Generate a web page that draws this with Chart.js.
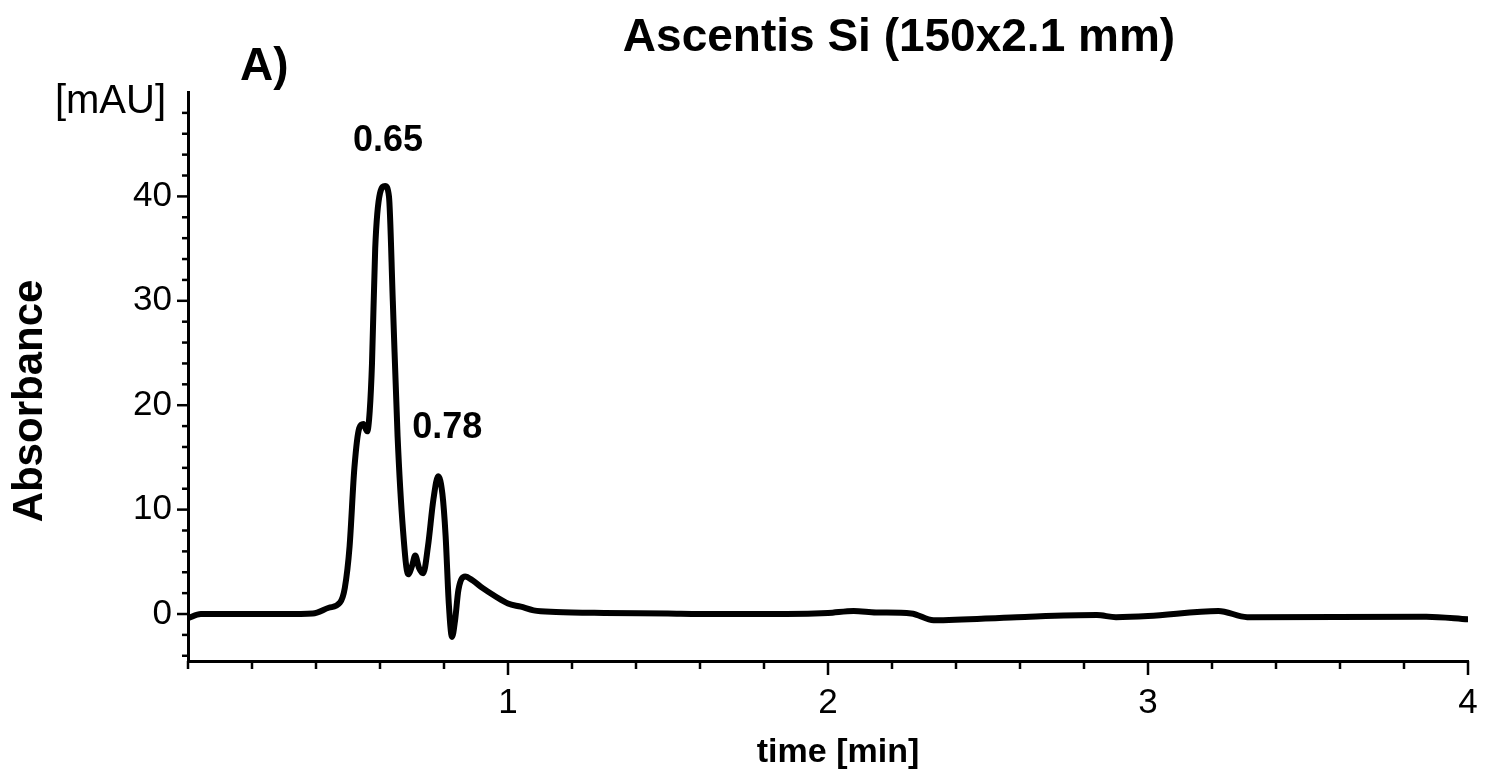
<!DOCTYPE html>
<html>
<head>
<meta charset="utf-8">
<script src="https://cdn.jsdelivr.net/npm/chart.js@4/dist/chart.umd.min.js"></script>
<style>
  html, body { margin: 0; padding: 0; background: #fff; }
  #chart { display: block; }
</style>
</head>
<body>
<canvas id="chart" width="1485" height="774"></canvas>
<script>
// Chromatogram trace
const timeMin = [
    0.00, 0.04, 0.10, 0.20, 0.30, 0.39, 0.44, 0.475, 0.49, 0.505,
    0.52, 0.535, 0.548, 0.56, 0.568, 0.575, 0.585, 0.60, 0.616, 0.628,
    0.64, 0.655, 0.672, 0.688, 0.70, 0.71, 0.722, 0.735, 0.75, 0.767,
    0.782, 0.795, 0.805, 0.815, 0.825, 0.835, 0.845, 0.866, 0.89, 0.92,
    0.96, 1.00, 1.04, 1.08, 1.15, 1.30, 1.50, 1.60, 1.87, 2.00,
    2.08, 2.15, 2.26, 2.33, 2.59, 2.84, 2.90, 3.00, 3.22, 3.31,
    3.87, 4.00
];
const absorbance = [
    -0.4, 0.0, 0.0, 0.0, 0.0, 0.05, 0.6, 1.1, 2.5, 6.5,
    14.0, 17.8, 18.2, 17.5, 19.5, 24, 35, 40.3, 41.0, 40.0,
    30, 17, 8, 3.8, 4.6, 5.6, 4.4, 3.9, 6.5, 11.0,
    13.2, 11.5, 7.5, 1.0, -2.2, -0.5, 2.3, 3.6, 3.2, 2.5,
    1.7, 1.0, 0.7, 0.35, 0.2, 0.1, 0.05, 0.0, 0.0, 0.1,
    0.3, 0.15, 0.05, -0.6, -0.3, -0.1, -0.3, -0.2, 0.3, -0.3,
    -0.25, -0.5
];

// Axis ticks
const xMajorTicks = [1, 2, 3, 4];
const xMinorStep = 0.2;
const yMajorTicks = [0, 10, 20, 30, 40];
const yMinorStep = 2;

// Peak retention time labels
const peakLabels = ['0.65', '0.78'];
const peakLabelX = [0.625, 0.81];
const peakLabelY = [45.3, 17.8];

const FONT = '"Liberation Sans", Arial, sans-serif';

function stepTicks(min, max, step) {
    const out = [];
    for (let i = Math.ceil(min / step); i * step <= max + 1e-9; i++) {
        out.push(Math.round(i * step * 1000) / 1000);
    }
    return out;
}

// Tick marks: long for labelled ticks, short for minor ones
const tickMarks = {
    id: 'tickMarks',
    afterDraw(chart) {
        const ctx = chart.ctx;
        const xs = chart.scales.x, ys = chart.scales.y;
        ctx.save();
        ctx.strokeStyle = '#000';
        ctx.lineWidth = 2.5;
        xs.ticks.forEach(t => {
            const px = xs.getPixelForValue(t.value);
            const len = xMajorTicks.includes(t.value) ? 14 : 8;
            ctx.beginPath();
            ctx.moveTo(px, xs.top);
            ctx.lineTo(px, xs.top + len);
            ctx.stroke();
        });
        ys.ticks.forEach(t => {
            const py = ys.getPixelForValue(t.value);
            const len = yMajorTicks.includes(t.value) ? 11 : 6;
            ctx.beginPath();
            ctx.moveTo(ys.right, py);
            ctx.lineTo(ys.right - len, py);
            ctx.stroke();
        });
        ctx.restore();
    }
};

// Free texts: title, panel letter, unit, axis titles, peak labels
const texts = {
    id: 'texts',
    afterDraw(chart) {
        const ctx = chart.ctx;
        const xs = chart.scales.x, ys = chart.scales.y;
        const area = chart.chartArea;
        ctx.save();
        ctx.fillStyle = '#000';
        ctx.textBaseline = 'middle';

        ctx.textAlign = 'center';
        ctx.font = 'bold 46px ' + FONT;
        ctx.fillText('Ascentis Si (150x2.1 mm)', 899, 38);

        ctx.textAlign = 'left';
        ctx.font = 'bold 46px ' + FONT;
        ctx.fillText('A)', 240, 67);

        ctx.textAlign = 'right';
        ctx.font = '40px ' + FONT;
        ctx.fillText('[mAU]', 166, 102);

        ctx.textAlign = 'center';
        ctx.font = 'bold 34px ' + FONT;
        ctx.fillText('time [min]', (area.left + area.right) / 2 + 10, 753);

        ctx.save();
        ctx.translate(30, 401);
        ctx.rotate(-Math.PI / 2);
        ctx.font = 'bold 42px ' + FONT;
        ctx.fillText('Absorbance', 0, 0);
        ctx.restore();

        ctx.font = 'bold 36px ' + FONT;
        peakLabels.forEach((label, i) => {
            ctx.fillText(label, xs.getPixelForValue(peakLabelX[i]), ys.getPixelForValue(peakLabelY[i]));
        });
        ctx.restore();
    }
};

new Chart(document.getElementById('chart'), {
    type: 'line',
    data: {
        datasets: [{
            data: timeMin.map((t, i) => ({ x: t, y: absorbance[i] })),
            borderColor: '#000',
            borderWidth: 6,
            borderJoinStyle: 'round',
            borderCapStyle: 'round',
            cubicInterpolationMode: 'monotone',
            pointRadius: 0,
            fill: false
        }]
    },
    options: {
        responsive: false,
        animation: false,
        layout: { padding: { top: 92, right: 17, bottom: 0, left: 0 } },
        plugins: {
            legend: { display: false },
            tooltip: { enabled: false }
        },
        scales: {
            x: {
                type: 'linear',
                min: 0,
                max: 4,
                afterBuildTicks: s => { s.ticks = stepTicks(0, 4, xMinorStep).map(v => ({ value: v })); },
                afterFit: s => { s.height = 113; s.paddingLeft = 0; s.paddingRight = 0; },
                grid: { display: false, drawTicks: false },
                border: { display: true, color: '#000', width: 3 },
                ticks: {
                    autoSkip: false,
                    maxRotation: 0,
                    padding: 21,
                    color: '#000',
                    font: { family: FONT, size: 35 },
                    callback: v => xMajorTicks.includes(v) ? String(v) : ''
                }
            },
            y: {
                min: -4.5,
                max: 50,
                afterBuildTicks: s => { s.ticks = stepTicks(-4.5, 48, yMinorStep).map(v => ({ value: v })); },
                afterFit: s => { s.width = 188; s.paddingTop = 0; s.paddingBottom = 0; },
                grid: { display: false, drawTicks: false },
                border: { display: true, color: '#000', width: 3 },
                ticks: {
                    autoSkip: false,
                    padding: 16,
                    color: '#000',
                    font: { family: FONT, size: 35 },
                    callback: v => yMajorTicks.includes(v) ? String(v) : ''
                }
            }
        }
    },
    plugins: [tickMarks, texts]
});
</script>
</body>
</html>
